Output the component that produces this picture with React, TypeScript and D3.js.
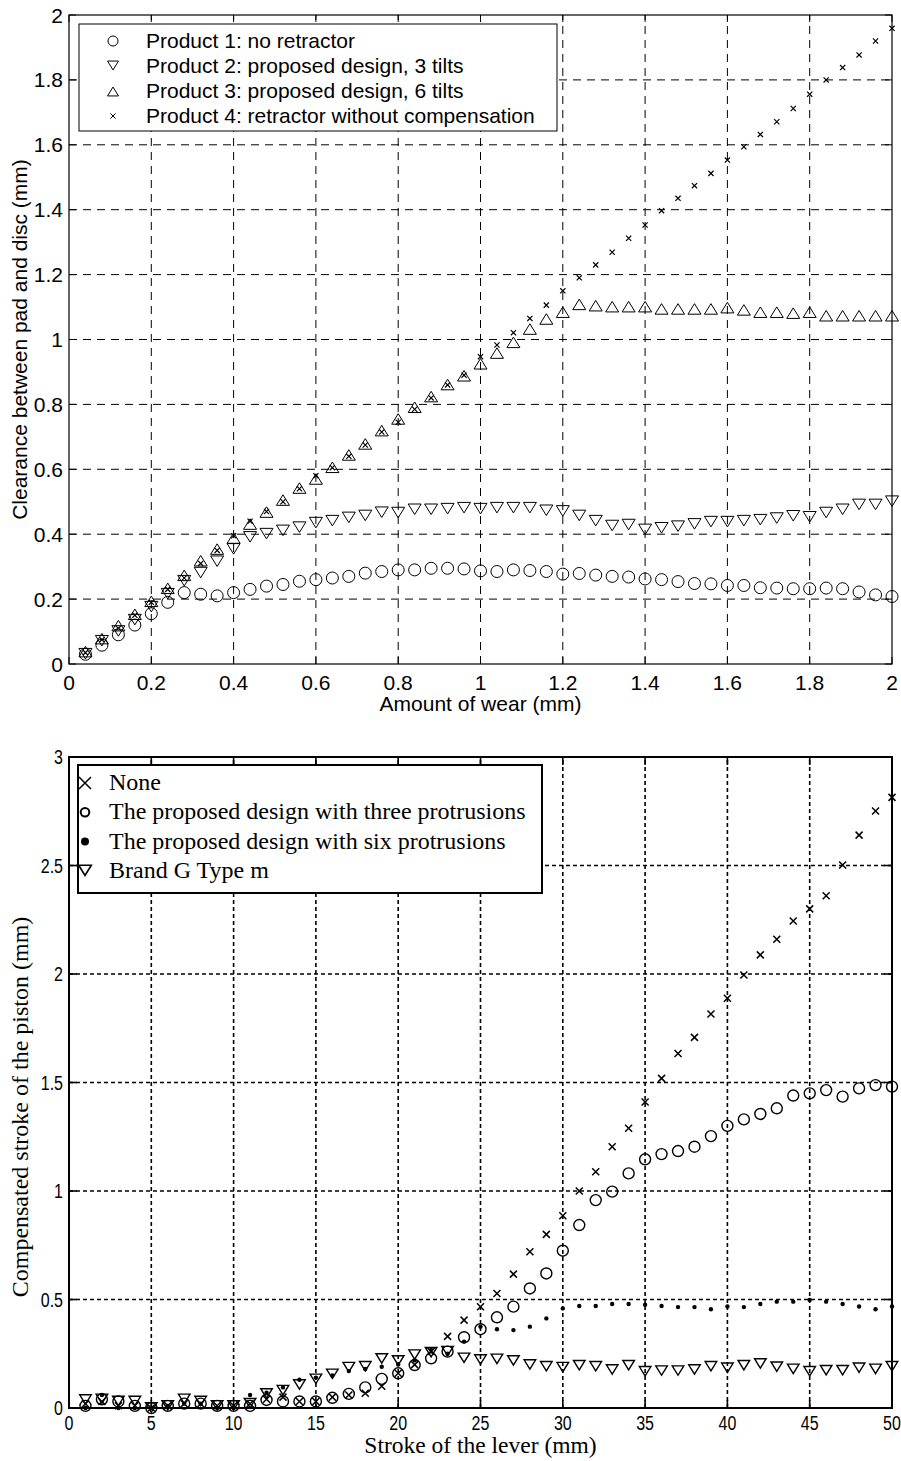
import React from "react";
import { scaleLinear } from "d3";

// ---- top chart: clearance vs wear ----
const wearX = [
  0.04, 0.08, 0.12, 0.16, 0.2, 0.24, 0.28, 0.32, 0.36, 0.4,
  0.44, 0.48, 0.52, 0.56, 0.6, 0.64, 0.68, 0.72, 0.76, 0.8,
  0.84, 0.88, 0.92, 0.96, 1.0, 1.04, 1.08, 1.12, 1.16, 1.2,
  1.24, 1.28, 1.32, 1.36, 1.4, 1.44, 1.48, 1.52, 1.56, 1.6,
  1.64, 1.68, 1.72, 1.76, 1.8, 1.84, 1.88, 1.92, 1.96, 2.0,
];
const product1 = [
  0.03, 0.058, 0.09, 0.12, 0.155, 0.19, 0.22, 0.215, 0.21, 0.22,
  0.23, 0.24, 0.245, 0.255, 0.26, 0.265, 0.27, 0.28, 0.285, 0.29,
  0.29, 0.295, 0.295, 0.293, 0.287, 0.285, 0.29, 0.288, 0.285, 0.277,
  0.279, 0.274, 0.27, 0.268, 0.262, 0.26, 0.254, 0.248, 0.247, 0.242,
  0.242, 0.235, 0.234, 0.232, 0.232, 0.234, 0.232, 0.222, 0.213, 0.208,
];
const product2 = [
  0.03, 0.07, 0.1, 0.135, 0.175, 0.215, 0.255, 0.28, 0.315, 0.353,
  0.39, 0.4, 0.41, 0.42, 0.434, 0.44, 0.45, 0.456, 0.466, 0.465,
  0.475, 0.475, 0.477, 0.48, 0.477, 0.48, 0.48, 0.48, 0.472, 0.47,
  0.456, 0.44, 0.425, 0.428, 0.413, 0.418, 0.423, 0.43, 0.437, 0.437,
  0.44, 0.443, 0.448, 0.455, 0.452, 0.465, 0.475, 0.49, 0.49, 0.5,
];
const product3 = [
  0.04, 0.08, 0.12, 0.155, 0.195, 0.235, 0.275, 0.32, 0.356, 0.39,
  0.433, 0.47, 0.507, 0.544, 0.572, 0.608, 0.646, 0.68, 0.721, 0.757,
  0.793, 0.826, 0.863, 0.89, 0.927, 0.96, 0.993, 1.034, 1.065, 1.086,
  1.11, 1.106, 1.103, 1.103, 1.103, 1.096, 1.096, 1.096, 1.096, 1.1,
  1.093, 1.086, 1.086, 1.083, 1.086, 1.075, 1.075, 1.075, 1.075, 1.075,
];
const product4 = [
  0.035, 0.075, 0.11, 0.15, 0.19, 0.23, 0.265, 0.31, 0.35, 0.395,
  0.44, 0.47, 0.5, 0.54, 0.58, 0.605, 0.64, 0.675, 0.715, 0.745,
  0.785, 0.82, 0.86, 0.89, 0.947, 0.983, 1.021, 1.065, 1.106, 1.15,
  1.19, 1.23, 1.269, 1.312, 1.353, 1.397, 1.435, 1.474, 1.512, 1.553,
  1.594, 1.632, 1.671, 1.712, 1.756, 1.8, 1.838, 1.877, 1.92, 1.959,
];
const wearTicks = [0, 0.2, 0.4, 0.6, 0.8, 1, 1.2, 1.4, 1.6, 1.8, 2];
const clearTicks = [0, 0.2, 0.4, 0.6, 0.8, 1, 1.2, 1.4, 1.6, 1.8, 2];
const topLegend = [
  "Product 1: no retractor",
  "Product 2: proposed design, 3 tilts",
  "Product 3: proposed design, 6 tilts",
  "Product 4: retractor without compensation",
];

// ---- bottom chart: compensated stroke vs lever stroke ----
const leverX = [
  1, 2, 3, 4, 5, 6, 7, 8, 9, 10, 11, 12, 13, 14, 15, 16, 17, 18, 19, 20,
  21, 22, 23, 24, 25, 26, 27, 28, 29, 30, 31, 32, 33, 34, 35, 36, 37, 38, 39, 40,
  41, 42, 43, 44, 45, 46, 47, 48, 49, 50,
];
const noneSeries = [
  0.02, 0.03, 0.01, 0.01, 0.0, 0.01, 0.02, 0.02, 0.01, 0.01,
  0.02, 0.04, 0.05, 0.03, 0.03, 0.05, 0.06, 0.068, 0.1, 0.16,
  0.2, 0.26, 0.33, 0.405, 0.467, 0.528, 0.617, 0.72, 0.8, 0.886,
  1.0, 1.089, 1.204, 1.289, 1.41, 1.519, 1.634, 1.708, 1.816, 1.888,
  1.995, 2.088, 2.16, 2.244, 2.3, 2.361, 2.502, 2.64, 2.751, 2.814,
];
const threeProt = [
  0.01, 0.04, 0.03, 0.01, 0.0, 0.01, 0.02, 0.02, 0.01, 0.01,
  0.01, 0.037, 0.03, 0.03, 0.03, 0.047, 0.065, 0.095, 0.134, 0.16,
  0.198, 0.229, 0.26, 0.326, 0.363, 0.418, 0.467, 0.551, 0.62, 0.725,
  0.843, 0.958, 0.997, 1.081, 1.146, 1.17, 1.184, 1.204, 1.253, 1.3,
  1.33, 1.355, 1.381, 1.44, 1.45, 1.465, 1.435, 1.473, 1.488, 1.481,
];
const sixProt = [
  0.0, 0.06, 0.0, 0.0, 0.0, 0.01, 0.02, 0.02, 0.0, 0.0,
  0.06, 0.07, 0.095, 0.13, 0.14, 0.15, 0.17, 0.18, 0.19, 0.2,
  0.22, 0.267, 0.25, 0.306, 0.375, 0.363, 0.359, 0.375, 0.413, 0.459,
  0.47, 0.47, 0.479, 0.479, 0.476, 0.47, 0.465, 0.465, 0.455, 0.468,
  0.465, 0.479, 0.49, 0.49, 0.498, 0.49, 0.479, 0.468, 0.455, 0.468,
];
const brandG = [
  0.037, 0.04, 0.03, 0.03, 0.0, 0.01, 0.04, 0.03, 0.01, 0.01,
  0.02, 0.065, 0.08, 0.106, 0.132, 0.155, 0.186, 0.19, 0.226, 0.217,
  0.244, 0.255, 0.26, 0.229, 0.221, 0.224, 0.217, 0.198, 0.19, 0.186,
  0.195, 0.19, 0.175, 0.195, 0.167, 0.17, 0.17, 0.175, 0.19, 0.183,
  0.195, 0.203, 0.188, 0.178, 0.167, 0.172, 0.172, 0.183, 0.178, 0.19,
];
const leverTicks = [0, 5, 10, 15, 20, 25, 30, 35, 40, 45, 50];
const pistonTicks = [0, 0.5, 1, 1.5, 2, 2.5, 3];
const bottomLegend = [
  "None",
  "The proposed design with three protrusions",
  "The proposed design with six protrusions",
  "Brand G Type m",
];

const SANS = "'Liberation Sans', Arial, Helvetica, sans-serif";
const SERIF = "'Liberation Serif', 'Times New Roman', Times, serif";

// marker shapes, drawn centred on (cx, cy)
function Marker({ kind, cx, cy, size, sw }) {
  const t = `translate(${cx},${cy})`;
  if (kind === "circle")
    return <circle cx={cx} cy={cy} r={size} fill="none" stroke="#000" strokeWidth={sw} />;
  if (kind === "dot")
    return <circle cx={cx} cy={cy} r={size} fill="#000" />;
  if (kind === "x")
    return (
      <path transform={t} d={`M${-size},${-size}L${size},${size}M${-size},${size}L${size},${-size}`}
        stroke="#000" strokeWidth={sw} fill="none" />
    );
  const w = size;
  const h = size * 0.9;
  const d = kind === "down"
    ? `M${-w},${-h}L${w},${-h}L0,${h * 0.8}Z`
    : `M${-w},${h}L${w},${h}L0,${-h * 0.8}Z`;
  return <path transform={t} d={d} fill="none" stroke="#000" strokeWidth={sw} />;
}

function TopChart() {
  const x = scaleLinear().domain([0, 2]).range([69, 892]);
  const y = scaleLinear().domain([0, 2]).range([664, 15]);
  const series = [
    { kind: "circle", values: product1, size: 6, sw: 1 },
    { kind: "down", values: product2, size: 6.5, sw: 1 },
    { kind: "up", values: product3, size: 6.5, sw: 1 },
    { kind: "x", values: product4, size: 2.6, sw: 1.2 },
  ];
  const [x0, x1] = x.range();
  const [y0, y1] = y.range();
  return (
    <g fontFamily={SANS} fontSize={21}>
      {/* grid */}
      {wearTicks.slice(1, -1).map(t => (
        <line key={`gx${t}`} x1={x(t)} x2={x(t)} y1={y0} y2={y1} stroke="#000" strokeDasharray="8,6" />
      ))}
      {clearTicks.slice(1, -1).map(t => (
        <line key={`gy${t}`} x1={x0} x2={x1} y1={y(t)} y2={y(t)} stroke="#000" strokeDasharray="8,6" />
      ))}
      {/* inward ticks */}
      {wearTicks.map(t => (
        <g key={`tx${t}`} stroke="#000">
          <line x1={x(t)} x2={x(t)} y1={y0} y2={y0 - 7} />
          <line x1={x(t)} x2={x(t)} y1={y1} y2={y1 + 7} />
        </g>
      ))}
      {clearTicks.map(t => (
        <g key={`ty${t}`} stroke="#000">
          <line x1={x0} x2={x0 + 7} y1={y(t)} y2={y(t)} />
          <line x1={x1} x2={x1 - 7} y1={y(t)} y2={y(t)} />
        </g>
      ))}
      <rect x={x0} y={y1} width={x1 - x0} height={y0 - y1} fill="none" stroke="#000" strokeWidth={1.2} />
      {/* data */}
      {series.map(s => (
        <g key={s.kind}>
          {s.values.map((v, i) => (
            <Marker key={i} kind={s.kind} cx={x(wearX[i])} cy={y(v)} size={s.size} sw={s.sw} />
          ))}
        </g>
      ))}
      {/* tick labels */}
      {wearTicks.map(t => (
        <text key={`lx${t}`} x={x(t)} y={690} textAnchor="middle">{t}</text>
      ))}
      {clearTicks.map(t => (
        <text key={`ly${t}`} x={63} y={y(t) + 7.5} textAnchor="end">{t}</text>
      ))}
      <text x={(x0 + x1) / 2} y={711} textAnchor="middle">Amount of wear (mm)</text>
      <text transform={`translate(27,${(y0 + y1) / 2}) rotate(-90)`} textAnchor="middle">
        Clearance between pad and disc (mm)
      </text>
      {/* legend */}
      <rect x={79} y={24} width={478} height={107} fill="#fff" stroke="#000" strokeWidth={1} />
      {topLegend.map((label, i) => (
        <g key={label}>
          <Marker kind={series[i].kind} cx={113} cy={41 + i * 25} size={series[i].kind === "circle" ? 5 : series[i].kind === "x" ? 2.6 : 5.5} sw={1} />
          <text x={146} y={48 + i * 25}>{label}</text>
        </g>
      ))}
    </g>
  );
}

function BottomChart() {
  const x = scaleLinear().domain([0, 50]).range([69, 892]);
  const y = scaleLinear().domain([0, 3]).range([1408, 757]);
  const series = [
    { kind: "x", values: noneSeries, size: 3.5, sw: 1.5 },
    { kind: "circle", values: threeProt, size: 5.5, sw: 1.4 },
    { kind: "dot", values: sixProt, size: 2.2, sw: 1 },
    { kind: "down", values: brandG, size: 5.8, sw: 1.4 },
  ];
  const legendMarks = [
    { kind: "x", size: 6, sw: 1.5 },
    { kind: "circle", size: 4.3, sw: 2 },
    { kind: "dot", size: 4, sw: 1 },
    { kind: "down", size: 6.3, sw: 1.6 },
  ];
  const [x0, x1] = x.range();
  const [y0, y1] = y.range();
  return (
    <g>
      {/* dotted grid */}
      {leverTicks.slice(1, -1).map(t => (
        <line key={`gx${t}`} x1={x(t)} x2={x(t)} y1={y0} y2={y1} stroke="#000" strokeWidth={1.6} strokeDasharray="4,3" />
      ))}
      {pistonTicks.slice(1, -1).map(t => (
        <line key={`gy${t}`} x1={x0} x2={x1} y1={y(t)} y2={y(t)} stroke="#000" strokeWidth={1.6} strokeDasharray="4,3" />
      ))}
      {leverTicks.map(t => (
        <g key={`tx${t}`} stroke="#000" strokeWidth={1.6}>
          <line x1={x(t)} x2={x(t)} y1={y0} y2={y0 - 8} />
          <line x1={x(t)} x2={x(t)} y1={y1} y2={y1 + 8} />
        </g>
      ))}
      {pistonTicks.map(t => (
        <g key={`ty${t}`} stroke="#000" strokeWidth={1.6}>
          <line x1={x0} x2={x0 + 8} y1={y(t)} y2={y(t)} />
          <line x1={x1} x2={x1 - 8} y1={y(t)} y2={y(t)} />
        </g>
      ))}
      <rect x={x0} y={y1} width={x1 - x0} height={y0 - y1} fill="none" stroke="#000" strokeWidth={2} />
      {series.map(s => (
        <g key={s.kind}>
          {s.values.map((v, i) => (
            <Marker key={i} kind={s.kind} cx={x(leverX[i])} cy={y(v)} size={s.size} sw={s.sw} />
          ))}
        </g>
      ))}
      {/* narrow sans tick labels */}
      <g fontFamily={SANS} fontSize={20}>
        {leverTicks.map(t => (
          <text key={`lx${t}`} transform={`translate(${x(t)},1430) scale(0.8,1)`} textAnchor="middle">{t}</text>
        ))}
        {pistonTicks.map(t => (
          <text key={`ly${t}`} transform={`translate(63,${y(t) + 7}) scale(0.8,1)`} textAnchor="end">{t}</text>
        ))}
      </g>
      <g fontFamily={SERIF}>
        <text x={(x0 + x1) / 2} y={1453} fontSize={23.5} textAnchor="middle">Stroke of the lever (mm)</text>
        <text transform={`translate(28,1107) rotate(-90)`} fontSize={24} textAnchor="middle">
          Compensated stroke of the piston (mm)
        </text>
        <rect x={78} y={765} width={464} height={128} fill="#fff" stroke="#000" strokeWidth={2} />
        {bottomLegend.map((label, i) => (
          <g key={label}>
            <Marker kind={legendMarks[i].kind} cx={85} cy={783 + i * 29.3} size={legendMarks[i].size} sw={legendMarks[i].sw} />
            <text x={109} y={790 + i * 29.3} fontSize={24}>{label}</text>
          </g>
        ))}
      </g>
    </g>
  );
}

export default function App() {
  return (
    <svg width={901} height={1461} style={{ position: "absolute", left: 0, top: 0, background: "#fff" }}>
      <rect width={901} height={1461} fill="#fff" />
      <TopChart />
      <BottomChart />
    </svg>
  );
}
